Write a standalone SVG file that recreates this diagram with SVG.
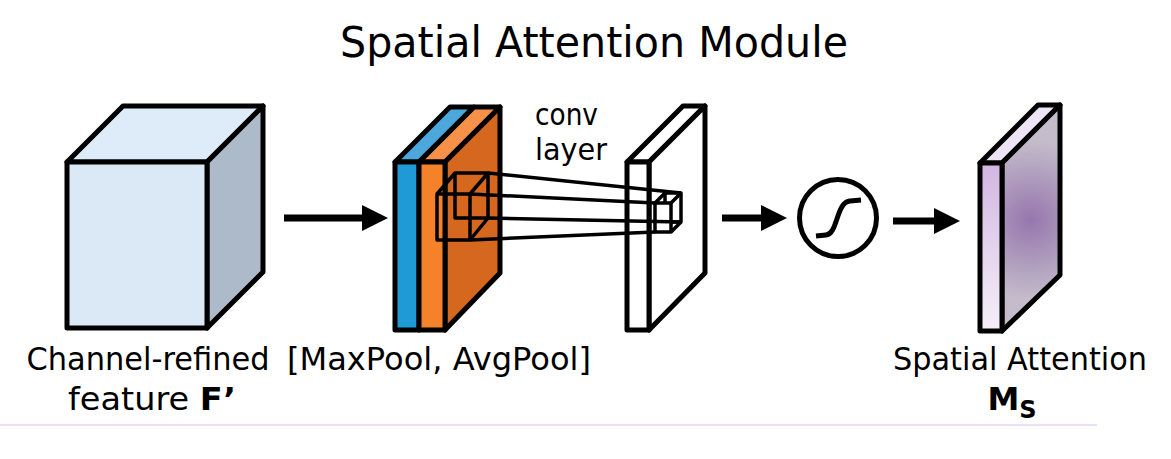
<svg xmlns="http://www.w3.org/2000/svg" width="1171" height="459" viewBox="0 0 1171 459">
  <style>
    .t { font-family: "DejaVu Sans", Verdana, sans-serif; fill: #000; }
    .edge { stroke: #000; stroke-width: 5; stroke-linejoin: round; }
    .thin { stroke: #000; stroke-width: 3.5; stroke-linejoin: round; fill: none; }
    .arrow { stroke: #000; stroke-width: 7; fill: none; }
  </style>
  <defs>
    <marker id="head" markerUnits="userSpaceOnUse" markerWidth="26" markerHeight="26" refX="4" refY="13" orient="auto">
      <path d="M0,0 L26,13 L0,26 z" fill="#000"/>
    </marker>
    <linearGradient id="msFront" x1="0" y1="0" x2="0" y2="1">
      <stop offset="0" stop-color="#d2b6e1"/>
      <stop offset="1" stop-color="#f5eff8"/>
    </linearGradient>
    <radialGradient id="msSide" cx="1031" cy="220" r="80" gradientUnits="userSpaceOnUse">
      <stop offset="0" stop-color="#9677ad"/>
      <stop offset="1" stop-color="#c4bccb"/>
    </radialGradient>
  </defs>
  <rect width="1171" height="459" fill="#fff"/>

  <text class="t" x="594" y="57" font-size="42" text-anchor="middle" textLength="508" lengthAdjust="spacingAndGlyphs">Spatial Attention Module</text>

  <g id="feature-cube">
    <polygon class="edge" points="67,162 207,162 263,106 123,106" fill="#deebf8"/>
    <polygon class="edge" points="207,162 263,106 263,272 207,328" fill="#adbac9"/>
    <rect class="edge" x="67" y="162" width="140" height="166" fill="#dbe8f5"/>
    <text class="t" x="148" y="370" font-size="32" text-anchor="middle" textLength="243" lengthAdjust="spacingAndGlyphs">Channel-refined</text>
    <text class="t" x="68" y="410" font-size="32" textLength="168" lengthAdjust="spacingAndGlyphs">feature <tspan font-weight="bold">F’</tspan></text>
  </g>

  <g id="pooling">
    <polygon class="edge" points="395,162 419,162 474,107 450,107" fill="#4ba7dc"/>
    <rect class="edge" x="395" y="162" width="24" height="168" fill="#1f9ad6"/>
    <polygon class="edge" points="419,162 445,162 500,107 474,107" fill="#f7914a"/>
    <polygon class="edge" points="445,162 500,107 500,273 445,330" fill="#d6671f"/>
    <rect class="edge" x="419" y="162" width="26" height="168" fill="#f5822a"/>
    <g class="thin">
      <rect x="455" y="173" width="33" height="45"/>
      <rect x="437" y="194" width="33" height="46"/>
      <line x1="437" y1="194" x2="455" y2="173"/>
      <line x1="470" y1="194" x2="488" y2="173"/>
      <line x1="470" y1="240" x2="488" y2="218"/>
    </g>
    <text class="t" x="439" y="370" font-size="32" text-anchor="middle" textLength="304" lengthAdjust="spacingAndGlyphs">[MaxPool, AvgPool]</text>
  </g>

  <g id="conv-output">
    <polygon class="edge" points="627,162 649,162 705,106 683,106" fill="#fff"/>
    <polygon class="edge" points="649,162 705,106 705,273 649,330" fill="#fff"/>
    <rect class="edge" x="627" y="162" width="22" height="168" fill="#fff"/>
    <g class="thin">
      <rect x="665" y="193" width="16" height="29"/>
      <rect x="655" y="203" width="16" height="29" fill="#fff"/>
      <line x1="655" y1="203" x2="665" y2="193"/>
      <line x1="671" y1="203" x2="681" y2="193"/>
      <line x1="671" y1="232" x2="681" y2="222"/>
    </g>
    <text class="t" x="535" y="125" font-size="31" textLength="63" lengthAdjust="spacingAndGlyphs">conv</text>
    <text class="t" x="535" y="160" font-size="31" textLength="72" lengthAdjust="spacingAndGlyphs">layer</text>
  </g>

  <g id="sigmoid">
    <circle cx="838" cy="218" r="38.5" fill="#fff" stroke="#000" stroke-width="5"/>
    <path d="M816,236 L826,235 C838,234 836,202 850,201 L861,200" fill="none" stroke="#000" stroke-width="5"/>
  </g>

  <g id="spatial-attention">
    <polygon class="edge" points="980,163 1002,163 1060,105 1038,105" fill="#ece4f4"/>
    <polygon class="edge" points="1002,163 1060,105 1060,275 1002,331" fill="url(#msSide)"/>
    <rect class="edge" x="980" y="163" width="22" height="168" fill="url(#msFront)"/>
    <text class="t" x="1020" y="370" font-size="32" text-anchor="middle" textLength="254" lengthAdjust="spacingAndGlyphs">Spatial Attention</text>
    <text class="t" x="1012" y="410" font-size="32" font-weight="bold" text-anchor="middle">M<tspan font-size="24" dy="8">S</tspan></text>
  </g>

  <g id="connectors">
    <g class="thin">
      <line x1="488" y1="173" x2="681" y2="193"/>
      <line x1="470" y1="194" x2="655" y2="203"/>
      <line x1="488" y1="218" x2="681" y2="222"/>
      <line x1="470" y1="240" x2="655" y2="232"/>
    </g>
    <line class="arrow" x1="284" y1="218" x2="366" y2="218" marker-end="url(#head)"/>
    <line class="arrow" x1="722" y1="218" x2="765" y2="218" marker-end="url(#head)"/>
    <line class="arrow" x1="893" y1="221" x2="938" y2="221" marker-end="url(#head)"/>
  </g>

  <line x1="0" y1="425" x2="1097" y2="425" stroke="#e4d6f2" stroke-width="1.5"/>
</svg>
